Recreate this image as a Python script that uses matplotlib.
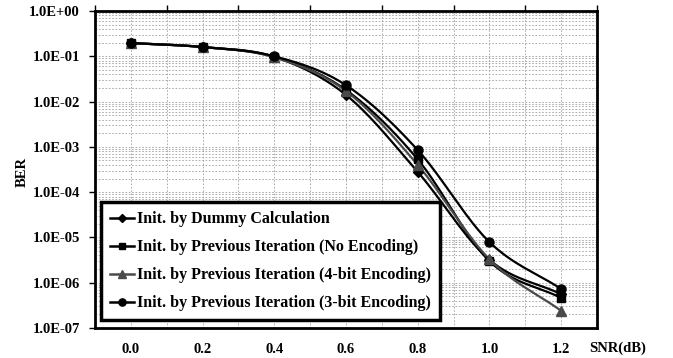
import numpy as np
import matplotlib
matplotlib.use("Agg")
import matplotlib.pyplot as plt
from matplotlib.ticker import FixedLocator, FuncFormatter, LogLocator, NullFormatter

snr = [0.0, 0.2, 0.4, 0.6, 0.8, 1.0, 1.2]
ber_dummy = [0.196, 0.16, 0.097, 0.014, 2.8e-4, 3.2e-6, 5.6e-7]
ber_noenc = [0.196, 0.16, 0.097, 0.018, 5.3e-4, 3.0e-6, 4.6e-7]
ber_4bit = [0.196, 0.16, 0.095, 0.017, 4.0e-4, 3.3e-6, 2.4e-7]
ber_3bit = [0.196, 0.16, 0.100, 0.023, 8.5e-4, 7.9e-6, 7.3e-7]
labels = ["Init. by Dummy Calculation",
          "Init. by Previous Iteration (No Encoding)",
          "Init. by Previous Iteration (4-bit Encoding)",
          "Init. by Previous Iteration (3-bit Encoding)"]
xtick_labels = ["0.0", "0.2", "0.4", "0.6", "0.8", "1.0", "1.2"]

plt.rcParams['font.family'] = ['Liberation Serif', 'DejaVu Serif']
plt.rcParams['font.weight'] = 'bold'


def smooth(x, y, n=30):
    # Catmull-Rom style smoothing in log space (like Excel smoothed lines)
    x = np.asarray(x, float)
    ly = np.log10(np.asarray(y, float))
    px = np.concatenate([[2 * x[0] - x[1]], x, [2 * x[-1] - x[-2]]])
    py = np.concatenate([[2 * ly[0] - ly[1]], ly, [2 * ly[-1] - ly[-2]]])
    xs, ys = [], []
    for i in range(1, len(px) - 2):
        t = np.linspace(0, 1, n, endpoint=(i == len(px) - 3))
        for P, out in ((px, xs), (py, ys)):
            p0, p1, p2, p3 = P[i - 1], P[i], P[i + 1], P[i + 2]
            out.extend(0.5 * ((2 * p1) + (-p0 + p2) * t + (2 * p0 - 5 * p1 + 4 * p2 - p3) * t ** 2
                              + (-p0 + 3 * p1 - 3 * p2 + p3) * t ** 3))
    return np.array(xs), 10 ** np.array(ys)


fig = plt.figure(figsize=(6.73, 3.58), dpi=100)
ax = fig.add_axes([95 / 673, 30 / 358, 502 / 673, 317 / 358])

series = [ber_dummy, ber_noenc, ber_4bit, ber_3bit]
markers = ['D', 's', '^', 'o']
msizes = [5, 6, 6.5, 6.5]
colors = ['black', 'black', '#4a4a4a', 'black']
for s, m, ms, c, lab in zip(series, markers, msizes, colors, labels):
    sx, sy = smooth(snr, s)
    ax.plot(sx, sy, color=c, lw=1.6, zorder=3)
    ax.plot(snr, s, ls='none', marker=m, ms=ms, color=c, zorder=4)
    ax.plot([], [], color=c, lw=1.8, marker=m, ms=ms * 0.8, label=lab)

ax.set_yscale('log')
ax.set_ylim(1e-7, 1.0)
ax.set_xlim(-0.1, 1.3)

ax.xaxis.set_major_locator(FixedLocator(snr))
ax.set_xticklabels(xtick_labels)
ax.xaxis.set_minor_locator(FixedLocator([-0.1, 0.1, 0.3, 0.5, 0.7, 0.9, 1.1, 1.3]))
ax.tick_params(axis='x', which='major', length=0, pad=11, labelsize=10.5)
ax.tick_params(axis='x', which='minor', bottom=False, top=True, direction='out', length=4, width=1)
ax.xaxis.label.set_visible(False)

ax.yaxis.set_major_locator(LogLocator(base=10, numticks=20))
ax.yaxis.set_minor_locator(LogLocator(base=10, subs=np.arange(2, 10), numticks=20))
ax.yaxis.set_minor_formatter(NullFormatter())

def fmt(v, pos):
    e = int(round(np.log10(v)))
    return "1.0E%s%02d" % ('+' if e >= 0 else '-', abs(e))
ax.yaxis.set_major_formatter(FuncFormatter(fmt))
ax.tick_params(axis='y', which='major', direction='out', length=4, width=1, pad=7, labelsize=10.5)
ax.tick_params(axis='y', which='minor', length=0)

ax.grid(True, which='both', axis='both', color='#a0a0a0', ls=(0, (2, 2)), lw=0.6)
ax.set_axisbelow(True)
for sp in ax.spines.values():
    sp.set_linewidth(2)

ax.set_ylabel("BER", fontsize=10.5, fontweight='bold')
ax.yaxis.set_label_coords(-0.132, 0.492)
fig.text(618 / 673, 1 - 348 / 358, "SNR(dB)", ha='center', va='center', fontsize=10.5, fontweight='bold')

leg = ax.legend(loc='lower left', bbox_to_anchor=(6 / 502, 8 / 317), frameon=True, fancybox=False,
                edgecolor='black', fontsize=11.5, handlelength=1.5, handletextpad=0.2,
                labelspacing=0.75, borderpad=0.55, borderaxespad=0)
leg.get_frame().set_linewidth(2.5)
leg.get_frame().set_alpha(1)
for t in leg.get_texts():
    t.set_fontweight('bold')

fig.savefig("out.png", dpi=100)
